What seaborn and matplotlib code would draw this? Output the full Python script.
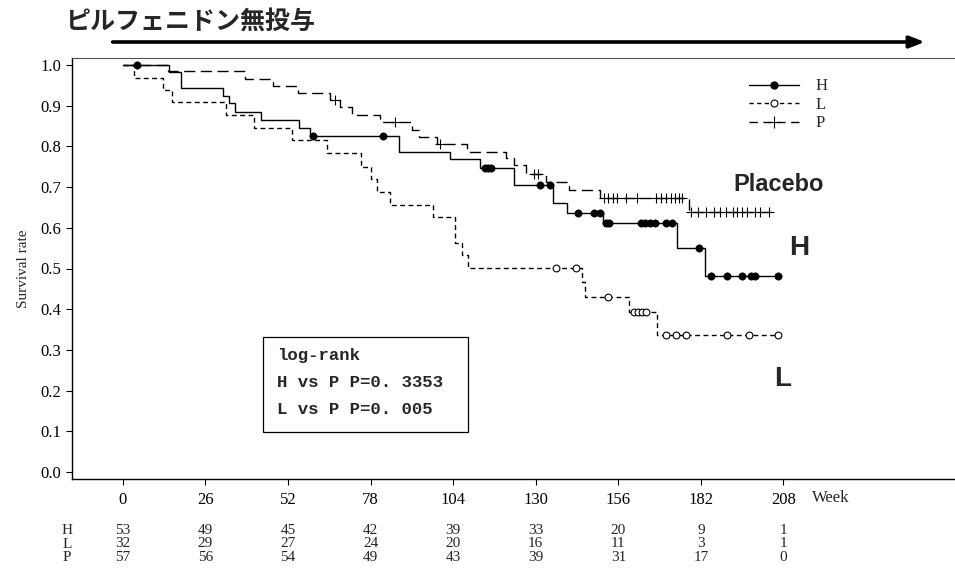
import numpy as np
import matplotlib
matplotlib.use("Agg")
import matplotlib.pyplot as plt
import seaborn as sns
from matplotlib.lines import Line2D
from matplotlib.patches import Rectangle

# 群ごとの生存曲線 (週, 生存率)
h_time = [0, 14.5, 18.3, 31.6, 33.4, 35.4, 43.4, 55.4, 59, 87, 103, 112.6, 123, 135.5, 139.7, 151.3, 174.4, 183.4]
h_surv = [1.0, 0.982, 0.944, 0.924, 0.906, 0.885, 0.865, 0.846, 0.826, 0.786, 0.768, 0.746, 0.705, 0.66, 0.636, 0.611, 0.551, 0.482]
h_end = 206.2
h_cens = [4.5, 60, 82, 114, 115, 116, 131.5, 134.5, 143.4, 148.4, 150.2, 152, 153, 163, 164.5, 166, 167.5,
          171, 173, 181.3, 185.3, 190.2, 195, 197.8, 199, 206.2]

l_time = [0, 3.6, 12.5, 15.5, 32.5, 41.3, 53.2, 64.3, 75, 78, 80, 84, 97.6, 104.7, 106.8, 108.7, 144.6, 145.5, 159.4, 168.3]
l_surv = [1.0, 0.969, 0.939, 0.908, 0.876, 0.844, 0.816, 0.783, 0.75, 0.721, 0.689, 0.656, 0.626, 0.562, 0.533, 0.502,
          0.468, 0.431, 0.392, 0.337]
l_end = 206.2
l_cens = [136.5, 142.6, 152.6, 161, 162.2, 163.4, 164.6, 171, 174.1, 177.3, 190.2, 197.3, 206.2]

p_time = [0, 14.3, 38.5, 47.2, 55.3, 65.3, 68.5, 72.1, 81, 91, 93.2, 99, 108.4, 120.5, 123.1, 126.8, 133.1, 140.5, 150.3, 178.3]
p_surv = [1.0, 0.984, 0.966, 0.948, 0.930, 0.914, 0.896, 0.877, 0.859, 0.840, 0.824, 0.806, 0.787, 0.771, 0.754, 0.732,
          0.713, 0.693, 0.672, 0.638]
p_end = 203.6
p_cens = [66.9, 85.8, 100, 129.4, 130.6, 151.5, 152.6, 154.2, 155.7, 158.4, 162, 167.8, 169.5, 171, 172.5, 174,
          175.2, 176.2, 179, 181, 183.5, 186, 188, 190, 192, 193.5, 195, 196.5, 199, 200.5, 203.5]

# 症例数 (number at risk)
risk_weeks = [0, 26, 52, 78, 104, 130, 156, 182, 208]
risk_h = [53, 49, 45, 42, 39, 33, 20, 9, 1]
risk_l = [32, 29, 27, 24, 20, 16, 11, 3, 1]
risk_p = [57, 56, 54, 49, 43, 39, 31, 17, 0]

sns.set_style("ticks")
plt.rcParams["font.family"] = ["Liberation Serif", "DejaVu Serif"]
plt.rcParams["axes.unicode_minus"] = False

fig = plt.figure(figsize=(9.55, 5.8), dpi=100)
ax = fig.add_axes([72 / 955, 101 / 580, 883 / 955, 421 / 580])


def step_xy(t, s, end):
    return np.array(t + [end]), np.array(s + [s[-1]])


def cens_y(t, s, c):
    idx = np.searchsorted(np.array(t), np.array(c), side="right") - 1
    return np.array(s)[idx]


groups = [
    (h_time, h_surv, h_end, h_cens, "-"),
    (l_time, l_surv, l_end, l_cens, (0, (3.5, 2.5))),
    (p_time, p_surv, p_end, p_cens, (0, (8, 4))),
]
for t, s, end, c, ls in groups:
    x, y = step_xy(t, s, end)
    sns.lineplot(x=x, y=y, ax=ax, drawstyle="steps-post", estimator=None, sort=False,
                 color="black", linewidth=1.0, linestyle=ls)

sns.scatterplot(x=h_cens, y=cens_y(h_time, h_surv, h_cens), ax=ax, marker="o",
                color="black", edgecolor="black", s=28, zorder=5)
sns.scatterplot(x=l_cens, y=cens_y(l_time, l_surv, l_cens), ax=ax, marker="o",
                facecolor="white", edgecolor="black", s=24, linewidth=0.8, zorder=5)
sns.scatterplot(x=p_cens, y=cens_y(p_time, p_surv, p_cens), ax=ax, marker="+",
                color="black", s=50, linewidth=0.8, zorder=5)

ax.set_xlim(-16, 262)
ax.set_ylim(-0.017, 1.017)
ax.set_xticks(risk_weeks)
ax.set_xticklabels([str(w) for w in risk_weeks], fontsize=12)
ax.set_yticks(np.arange(0, 1.01, 0.1))
ax.set_yticklabels([f"{v:.1f}" for v in np.arange(0, 1.01, 0.1)], fontsize=12)
ax.tick_params(axis="both", direction="out", length=4, width=0.8, colors="black")
ax.tick_params(axis="x", pad=5)
ax.set_xlabel("")
ax.set_ylabel("Survival rate", fontsize=11, labelpad=8)
for side in ["left", "bottom"]:
    ax.spines[side].set_color("black")
    ax.spines[side].set_linewidth(1.0)
ax.spines["top"].set_visible(True)
ax.spines["top"].set_color("#555555")
ax.spines["top"].set_linewidth(0.8)
ax.spines["right"].set_visible(False)

ax.text(217, -11 / 421, "Week", transform=ax.get_xaxis_transform(), fontsize=12,
        va="top", ha="left")

# 凡例
handles = [
    Line2D([], [], color="black", linewidth=1.0, linestyle="-", marker="o", markersize=5),
    Line2D([], [], color="black", linewidth=1.0, linestyle=(0, (3, 2.5)), marker="o",
           markersize=5, markerfacecolor="white", markeredgewidth=0.8),
    Line2D([], [], color="black", linewidth=1.0, linestyle=(0, (6, 4)), marker="+",
           markersize=8, markeredgewidth=0.8),
]
ax.legend(handles, ["H", "L", "P"], loc="upper left", bbox_to_anchor=(0.75, 0.987),
          frameon=False, fontsize=12, handlelength=3.0, labelspacing=0.15, handletextpad=1.0)

# 群名ラベル
ax.text(0.749, 0.70, "Placebo", transform=ax.transAxes, fontsize=17, fontweight="bold",
        family="Liberation Sans", va="center")
ax.text(0.812, 0.548, "H", transform=ax.transAxes, fontsize=20, fontweight="bold",
        family="Liberation Sans", va="center")
ax.text(0.795, 0.238, "L", transform=ax.transAxes, fontsize=20, fontweight="bold",
        family="Liberation Sans", va="center")

# log-rank 検定の枠
ax.add_patch(Rectangle((0.2163, 0.1116), 0.232, 0.2257, transform=ax.transAxes,
                       facecolor="white", edgecolor="black", linewidth=0.9, zorder=6))
box_lines = ["log-rank", "H vs P P=0. 3353", "L vs P P=0. 005"]
for i, txt in enumerate(box_lines):
    ax.text(0.232, 0.2945 - i * 0.0653, txt, transform=ax.transAxes, fontsize=12.5,
            family=["Liberation Mono", "DejaVu Sans Mono"], fontweight="bold", va="center", zorder=7)

# 症例数の表 (列ごとに3行)
fig.text(67 / 955, 1 - 544 / 580, "H\nL\nP", fontsize=11, ha="center", va="center",
         linespacing=1.04)
for w, a, b, c in zip(risk_weeks, risk_h, risk_l, risk_p):
    ax.text(w, -0.154, f"{a}\n{b}\n{c}", transform=ax.get_xaxis_transform(), fontsize=11,
            ha="center", va="center", linespacing=1.04, clip_on=False)

# タイトルと矢印
fig.text(65 / 955, 1 - 22 / 580, "ピルフェニドン無投与", fontsize=18, fontweight="bold",
         family=["Noto Sans CJK JP", "DejaVu Sans"], va="center", ha="left")
ax.annotate("", xy=(252.5, 1.038), xytext=(-3.2, 1.038), xycoords=ax.get_xaxis_transform(),
            textcoords=ax.get_xaxis_transform(),
            arrowprops=dict(arrowstyle="-|>,head_length=0.9,head_width=0.35", color="black",
                            linewidth=2.6, shrinkA=0, shrinkB=0), annotation_clip=False)

fig.savefig("out.png", dpi=100)
